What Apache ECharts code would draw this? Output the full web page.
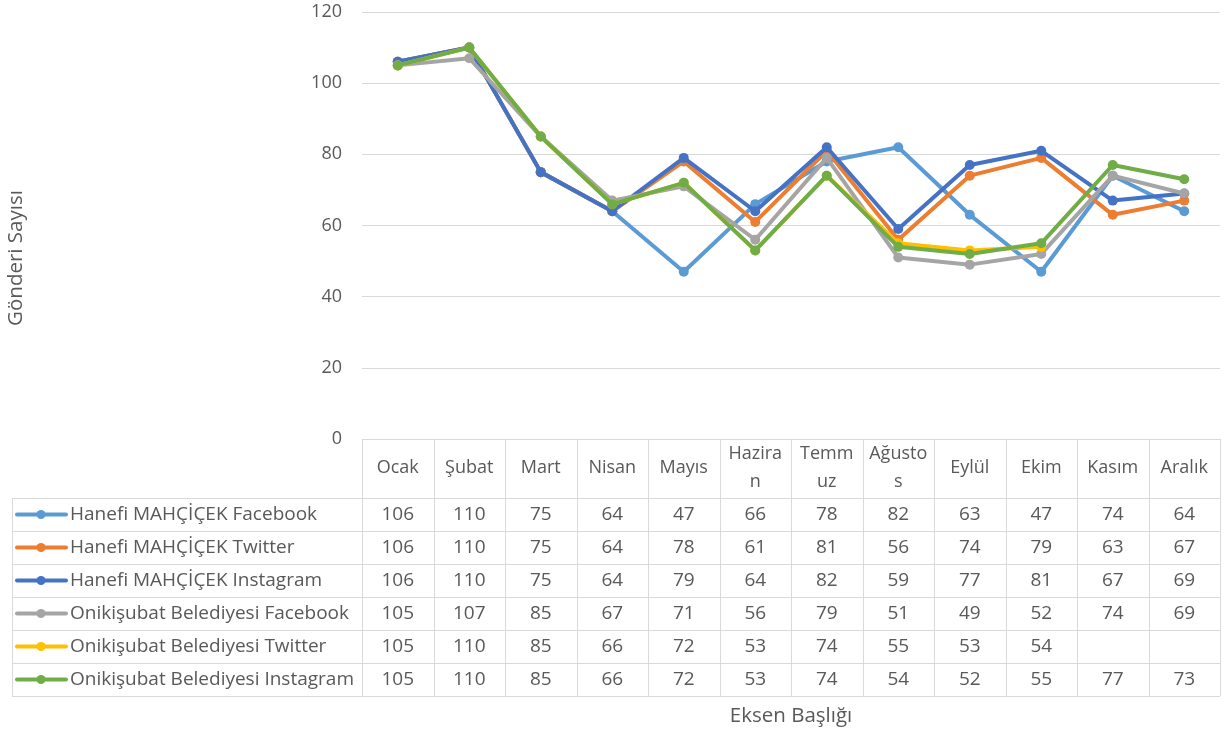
<!DOCTYPE html>
<html><head><meta charset="utf-8">
<script src="https://cdn.jsdelivr.net/npm/echarts@6/dist/echarts.min.js"></script>
<style>html,body{margin:0;padding:0;background:#fff}#c{width:1226px;height:733px}</style>
</head><body><div id="c"></div>
<script>
const categories = ['Ocak','Şubat','Mart','Nisan','Mayıs','Haziran','Temmuz','Ağustos','Eylül','Ekim','Kasım','Aralık'];
const headerLabels = ['Ocak','Şubat','Mart','Nisan','Mayıs','Hazira\nn','Temm\nuz','Ağusto\ns','Eylül','Ekim','Kasım','Aralık'];
const seriesNames = ['Hanefi MAHÇİÇEK Facebook','Hanefi MAHÇİÇEK Twitter','Hanefi MAHÇİÇEK Instagram','Onikişubat Belediyesi Facebook','Onikişubat Belediyesi Twitter','Onikişubat Belediyesi Instagram'];
const hanefiFacebook  = [106,110,75,64,47,66,78,82,63,47,74,64];
const hanefiTwitter   = [106,110,75,64,78,61,81,56,74,79,63,67];
const hanefiInstagram = [106,110,75,64,79,64,82,59,77,81,67,69];
const onikiFacebook   = [105,107,85,67,71,56,79,51,49,52,74,69];
const onikiTwitter    = [105,110,85,66,72,53,74,55,53,54,null,null];
const onikiInstagram  = [105,110,85,66,72,53,74,54,52,55,77,73];
const yTicks = [0,20,40,60,80,100,120];
const yTitle = 'Gönderi Sayısı';
const xTitle = 'Eksen Başlığı';

const allSeries = [hanefiFacebook,hanefiTwitter,hanefiInstagram,onikiFacebook,onikiTwitter,onikiInstagram];
const colors = ['#5B9BD5','#ED7D31','#4472C4','#A5A5A5','#FFC000','#70AD47'];
const FONT = 'Open Sans';
const TXT = '#595959';
const GRID = '#D9D9D9';

const chart = echarts.init(document.getElementById('c'), null, {renderer:'canvas'});
const option = {
  animation:false,
  color: colors,
  textStyle:{fontFamily:FONT},
  grid:{left:362, right:6, top:12, bottom:294, containLabel:false},
  xAxis:{
    type:'category', data:categories, boundaryGap:true,
    axisLine:{show:false}, axisTick:{show:false},
    axisLabel:{
      formatter:(v,i)=>headerLabels[i],
      interval:0, margin:29, verticalAlign:'middle', lineHeight:28,
      fontSize:18, color:TXT, fontFamily:FONT
    },
    name:xTitle, nameLocation:'middle', nameGap:277,
    nameTextStyle:{fontSize:20.5, color:TXT, fontFamily:FONT, verticalAlign:'middle'}
  },
  yAxis:{
    type:'value', min:yTicks[0], max:yTicks[yTicks.length-1], interval:yTicks[1]-yTicks[0],
    axisLine:{show:false}, axisTick:{show:false},
    axisLabel:{margin:20, fontSize:18, color:TXT, fontFamily:FONT},
    splitLine:{lineStyle:{color:GRID, width:1}}
  },
  series: allSeries.map((d,i)=>({
    name:seriesNames[i], type:'line', data:d,
    symbol:'circle', symbolSize:10, showSymbol:true,
    lineStyle:{width:4, color:colors[i], join:'round', cap:'round'},
    itemStyle:{color:colors[i]},
    connectNulls:false, z:2+i
  }))
};
chart.setOption(option);

// data table drawn below the plot, positioned from the library's own scales
const topY = chart.convertToPixel({yAxisIndex:0}, yTicks[0]);
const centers = categories.map((c,i)=>chart.convertToPixel({xAxisIndex:0}, i));
const band = centers[1]-centers[0];
const leftX = centers[0]-band/2;
const rightX = centers[centers.length-1]+band/2;
const headerH = 59, rowH = 33, tableLeft = 12;
const g = [];
const line = (x1,y1,x2,y2)=>g.push({type:'line', shape:{x1,y1,x2,y2}, style:{stroke:GRID, lineWidth:1}, silent:true});
const firstRowY = topY+headerH;
const bottomY = firstRowY + rowH*allSeries.length;
for (let i=0;i<=categories.length;i++){ const x=Math.round(leftX+band*i)+0.5; line(x, topY, x, bottomY); }
line(tableLeft+0.5, firstRowY, tableLeft+0.5, bottomY);
for (let r=0;r<=allSeries.length;r++){ const y=Math.round(firstRowY+rowH*r)+0.5; line(tableLeft, y, rightX, y); }
allSeries.forEach((d,r)=>{
  const cy = firstRowY + rowH*r + rowH/2;
  g.push({type:'line', shape:{x1:17,y1:cy,x2:66,y2:cy}, style:{stroke:colors[r], lineWidth:4, lineCap:'round'}, silent:true});
  g.push({type:'circle', shape:{cx:41,cy:cy,r:4.5}, style:{fill:colors[r]}, silent:true});
  g.push({type:'text', x:70, y:cy, style:{text:seriesNames[r], fontSize:19, fontFamily:FONT, fill:TXT, align:'left', verticalAlign:'middle'}, silent:true});
  d.forEach((v,i)=>{
    if (v===null) return;
    g.push({type:'text', x:centers[i], y:cy, style:{text:String(v), fontSize:19, fontFamily:FONT, fill:TXT, align:'center', verticalAlign:'middle'}, silent:true});
  });
});
g.push({type:'text', x:16, y:258, rotation:Math.PI/2, style:{text:yTitle, fontSize:20.5, fontFamily:FONT, fill:TXT, align:'center', verticalAlign:'middle'}, silent:true});
chart.setOption({graphic:{elements:g}});
</script></body></html>
